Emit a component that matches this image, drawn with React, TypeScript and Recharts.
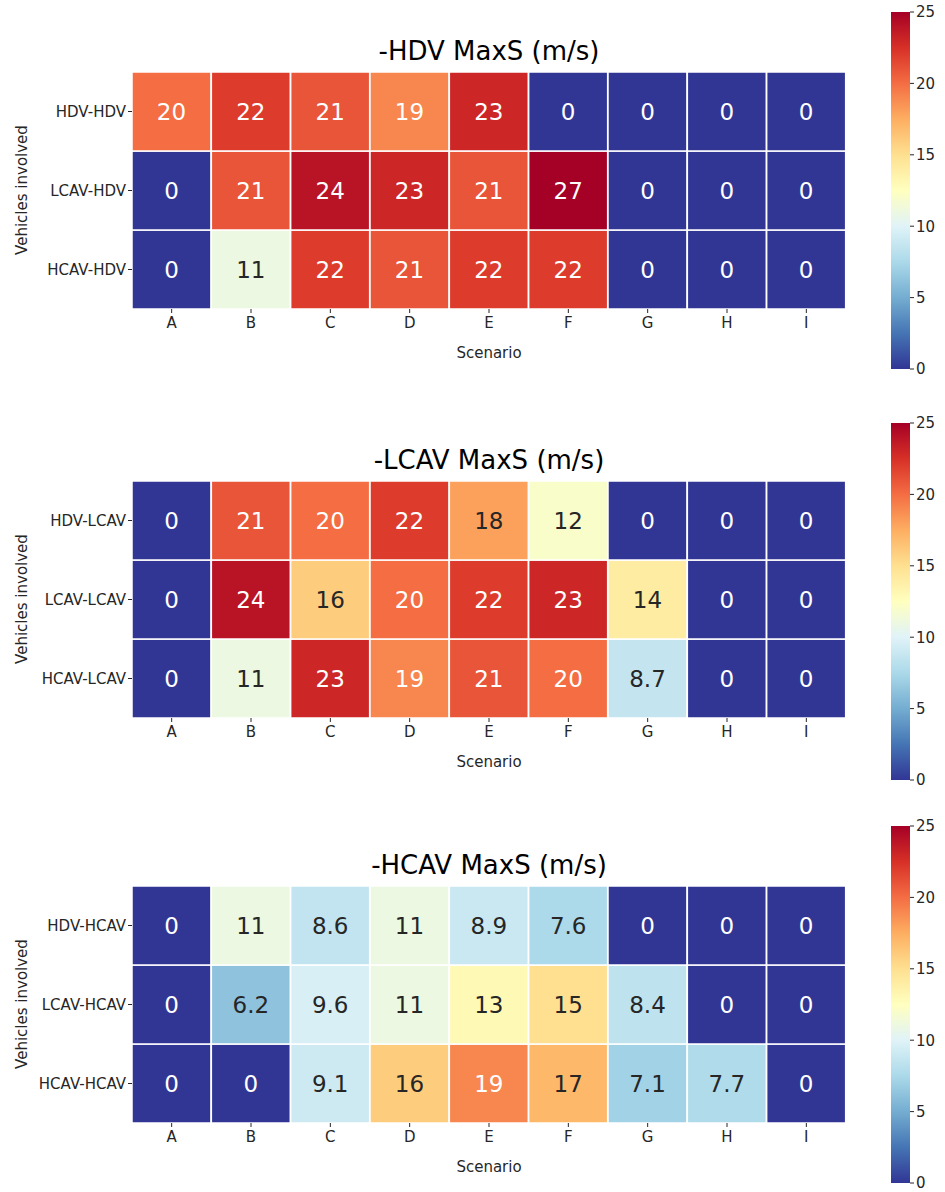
import { BarChart, Bar, XAxis, YAxis, Cell, LabelList } from 'recharts';

const scenarios = ['A', 'B', 'C', 'D', 'E', 'F', 'G', 'H', 'I'];

const hdvRows = ['HDV-HDV', 'LCAV-HDV', 'HCAV-HDV'];
const hdvMaxS = [
  [20, 22, 21, 19, 23, 0, 0, 0, 0],
  [0, 21, 24, 23, 21, 27, 0, 0, 0],
  [0, 11, 22, 21, 22, 22, 0, 0, 0],
];

const lcavRows = ['HDV-LCAV', 'LCAV-LCAV', 'HCAV-LCAV'];
const lcavMaxS = [
  [0, 21, 20, 22, 18, 12, 0, 0, 0],
  [0, 24, 16, 20, 22, 23, 14, 0, 0],
  [0, 11, 23, 19, 21, 20, 8.7, 0, 0],
];

const hcavRows = ['HDV-HCAV', 'LCAV-HCAV', 'HCAV-HCAV'];
const hcavMaxS = [
  [0, 11, 8.6, 11, 8.9, 7.6, 0, 0, 0],
  [0, 6.2, 9.6, 11, 13, 15, 8.4, 0, 0],
  [0, 0, 9.1, 16, 19, 17, 7.1, 7.7, 0],
];

const colorbarTicks = [0, 5, 10, 15, 20, 25];
const VMAX = 25;

// RdYlBu reversed, low -> high
const cmap = [
  '#313695', '#4575b4', '#74add1', '#abd9e9', '#e0f3f8', '#ffffbf',
  '#fee090', '#fdae61', '#f46d43', '#d73027', '#a50026',
];

const FONT = '"DejaVu Sans", sans-serif';
const INK = '#262626';

function hexToRgb(h: string) {
  const n = parseInt(h.slice(1), 16);
  return [(n >> 16) & 255, (n >> 8) & 255, n & 255];
}

function rgbFor(v: number) {
  const t = Math.min(Math.max(v / VMAX, 0), 1) * (cmap.length - 1);
  const i = Math.min(Math.floor(t), cmap.length - 2);
  const f = t - i;
  const a = hexToRgb(cmap[i]);
  const b = hexToRgb(cmap[i + 1]);
  return a.map((c, k) => Math.round(c + (b[k] - c) * f));
}

function colorFor(v: number) {
  const [r, g, b] = rgbFor(v);
  return `rgb(${r},${g},${b})`;
}

// same rule seaborn uses for annotation colour
function textColorFor(v: number) {
  const lin = rgbFor(v).map((c) => {
    const s = c / 255;
    return s <= 0.03928 ? s / 12.92 : Math.pow((s + 0.055) / 1.055, 2.4);
  });
  const lum = 0.2126 * lin[0] + 0.7152 * lin[1] + 0.0722 * lin[2];
  return lum > 0.408 ? INK : '#ffffff';
}

const renderValue = (props: any) => {
  const { x, y, width, height, value } = props;
  return (
    <text
      x={x + width / 2}
      y={y + height / 2}
      textAnchor="middle"
      dominantBaseline="central"
      fontFamily={FONT}
      fontSize={23}
      fill={textColorFor(value)}
    >
      {String(value)}
    </text>
  );
};

type PanelProps = {
  top: number;
  title: string;
  rows: string[];
  values: number[][];
};

function HeatmapPanel({ top, title, rows, values }: PanelProps) {
  const data = scenarios.map((s, c) => {
    const d: Record<string, any> = { scenario: s };
    rows.forEach((_, r) => {
      d[`h${r}`] = 1;
      d[`v${r}`] = values[r][c];
    });
    return d;
  });
  // bottom row is stacked first
  const stackOrder = [2, 1, 0];

  return (
    <div style={{ position: 'absolute', left: 0, top }}>
      <BarChart
        width={860}
        height={370}
        data={data}
        margin={{ top: 72, right: 14, bottom: 11, left: 20 }}
        barCategoryGap={0}
        barGap={0}
      >
        <XAxis
          dataKey="scenario"
          axisLine={false}
          tickSize={4}
          tickMargin={4}
          tickLine={{ stroke: INK }}
          tick={{ fill: INK, fontSize: 15, fontFamily: FONT }}
          height={50}
        />
        <YAxis
          type="number"
          domain={[0, 3]}
          ticks={[0.5, 1.5, 2.5]}
          tickFormatter={(v: number) => rows[2 - Math.floor(v)]}
          width={112}
          axisLine={false}
          tickSize={4}
          tickLine={{ stroke: INK }}
          tick={{ fill: INK, fontSize: 15, fontFamily: FONT }}
        />
        {stackOrder.map((r) => (
          <Bar key={r} dataKey={`h${r}`} stackId="grid" isAnimationActive={false}>
            {data.map((_, c) => (
              <Cell key={c} fill={colorFor(values[r][c])} stroke="#ffffff" strokeWidth={1.5} />
            ))}
            <LabelList dataKey={`v${r}`} content={renderValue} />
          </Bar>
        ))}
        <text x={489} y={60} textAnchor="middle" fontFamily={FONT} fontSize={26} fill="#000">
          {title}
        </text>
        <text x={489} y={358} textAnchor="middle" fontFamily={FONT} fontSize={15} fill={INK}>
          Scenario
        </text>
        <text
          x={22}
          y={190}
          transform="rotate(-90 22 190)"
          textAnchor="middle"
          dominantBaseline="central"
          fontFamily={FONT}
          fontSize={15}
          fill={INK}
        >
          Vehicles involved
        </text>
      </BarChart>
    </div>
  );
}

function Colorbar({ top, id }: { top: number; id: string }) {
  return (
    <div style={{ position: 'absolute', left: 891, top }}>
      <BarChart
        width={54}
        height={381}
        data={[{ name: 'cbar', span: VMAX }]}
        margin={{ top: 12, right: 0, bottom: 12, left: 0 }}
        barCategoryGap={0}
      >
        <defs>
          <linearGradient id={id} x1="0" y1="1" x2="0" y2="0">
            {cmap.map((c, i) => (
              <stop key={i} offset={`${(i / (cmap.length - 1)) * 100}%`} stopColor={c} />
            ))}
          </linearGradient>
        </defs>
        <XAxis dataKey="name" hide />
        <YAxis
          orientation="right"
          type="number"
          domain={[0, VMAX]}
          ticks={colorbarTicks}
          width={35}
          axisLine={false}
          tickSize={4}
          tickLine={{ stroke: INK }}
          tick={{ fill: INK, fontSize: 15, fontFamily: FONT }}
        />
        <Bar dataKey="span" fill={`url(#${id})`} isAnimationActive={false} />
      </BarChart>
    </div>
  );
}

export default function App() {
  return (
    <div
      style={{
        position: 'absolute',
        left: 0,
        top: 0,
        width: 945,
        height: 1192,
        background: '#ffffff',
        fontFamily: FONT,
      }}
    >
      <HeatmapPanel top={0} title="-HDV MaxS (m/s)" rows={hdvRows} values={hdvMaxS} />
      <Colorbar top={0} id="cmap-hdv" />
      <HeatmapPanel top={409} title="-LCAV MaxS (m/s)" rows={lcavRows} values={lcavMaxS} />
      <Colorbar top={411} id="cmap-lcav" />
      <HeatmapPanel top={814} title="-HCAV MaxS (m/s)" rows={hcavRows} values={hcavMaxS} />
      <Colorbar top={814} id="cmap-hcav" />
    </div>
  );
}
